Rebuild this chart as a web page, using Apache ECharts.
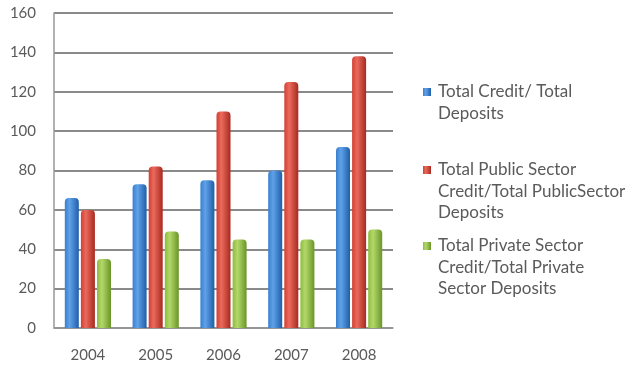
<!DOCTYPE html>
<html>
<head>
<meta charset="utf-8">
<script src="https://cdn.jsdelivr.net/npm/echarts@6/dist/echarts.min.js"></script>
<style>
  html, body { margin: 0; padding: 0; background: #fff; }
  #chart { width: 628px; height: 367px; }
</style>
</head>
<body>
<div id="chart"></div>
<script>
// Credit / deposit ratios by year
const years = ['2004', '2005', '2006', '2007', '2008'];
const totalRatio = [66, 73, 75, 80, 92];
const publicRatio = [60, 82, 110, 125, 138];
const privateRatio = [35, 49, 45, 45, 50];
const seriesNames = [
  'Total Credit/ Total\nDeposits',
  'Total Public Sector\nCredit/Total PublicSector\nDeposits',
  'Total Private Sector\nCredit/Total Private\nSector Deposits'
];
const yTicks = { min: 0, max: 160, interval: 20 };

const FONT = 'Lato';
const TEXT = '#5a5a5a';

function cylinder(light, mid, dark) {
  return new echarts.graphic.LinearGradient(0, 0, 1, 0, [
    { offset: 0, color: mid },
    { offset: 0.35, color: light },
    { offset: 1, color: dark }
  ]);
}

const colors = [
  cylinder('#5fa2e8', '#3a7fd0', '#1f5ea8'),
  cylinder('#ea6a5c', '#d23f32', '#a82a20'),
  cylinder('#b3d86a', '#8cbc3e', '#6a9528')
];
const legendColors = ['#3f7fcf', '#cf3f3a', '#9bc050'];

// Each legend entry: square icon level with the first text line.
// Blank lines above the label keep its first line centred on the icon.
const LH = 21.5;
const lineCounts = [2, 3, 3];
const firstLineY = [92, 170, 246];

const chart = echarts.init(document.getElementById('chart'));
chart.setOption({
  animation: false,
  grid: { left: 54, right: 235, top: 13, bottom: 39 },
  legend: seriesNames.map((n, i) => ({
    data: [n],
    orient: 'vertical',
    left: 423,
    top: firstLineY[i] - (2 * lineCounts[i] - 1) * LH / 2,
    padding: 0,
    itemWidth: 8,
    itemHeight: 8,
    icon: 'rect',
    selectedMode: false,
    formatter: name => ' \n'.repeat(lineCounts[i] - 1) + name,
    textStyle: {
      fontFamily: FONT, fontSize: 17, color: TEXT, lineHeight: LH,
      padding: [0, 0, 0, 2]
    }
  })),
  xAxis: {
    type: 'category',
    data: years,
    axisLine: { lineStyle: { color: '#999', width: 1.5 } },
    axisTick: { show: false },
    axisLabel: { fontFamily: FONT, fontSize: 15, color: TEXT, margin: 20 }
  },
  yAxis: {
    type: 'value',
    min: yTicks.min,
    max: yTicks.max,
    interval: yTicks.interval,
    axisLine: { show: true, lineStyle: { color: '#999', width: 1.5 } },
    axisTick: { show: false },
    axisLabel: { fontFamily: FONT, fontSize: 15, color: TEXT, margin: 18 },
    splitLine: { lineStyle: { color: '#8a8a8a', width: 2 } }
  },
  series: [totalRatio, publicRatio, privateRatio].map((d, i) => ({
    name: seriesNames[i],
    type: 'bar',
    data: d,
    barWidth: 14,
    barGap: '15%',
    color: legendColors[i],
    itemStyle: { color: colors[i], borderRadius: [4, 4, 0, 0] }
  }))
});
</script>
</body>
</html>
